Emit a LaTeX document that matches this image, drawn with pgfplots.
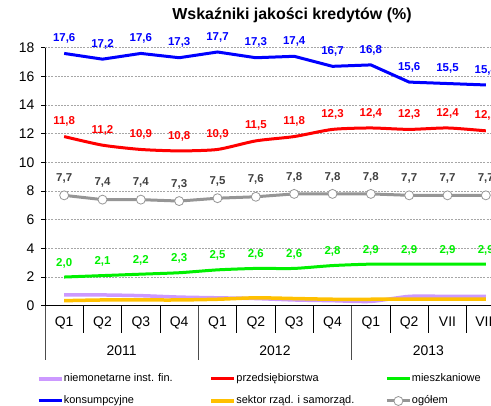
\documentclass[border=0pt]{standalone}
\usepackage{fontspec}
\setmainfont{Liberation Sans}
\usepackage{pgfplots}
\pgfplotsset{compat=1.18}
\usepackage{pgfplotstable}

\definecolor{cPurple}{RGB}{204,153,255}
\definecolor{cRed}{RGB}{255,0,0}
\definecolor{cGreen}{RGB}{0,240,0}
\definecolor{cBlue}{RGB}{0,0,255}
\definecolor{cYellow}{RGB}{255,192,0}
\definecolor{cGrey}{RGB}{150,150,150}
\definecolor{cLabel}{RGB}{64,64,64}

% quarterly credit quality ratios (%)
\pgfplotstableread{
x  nif   prz   mie  kon   sek   ogo
0  0.75  11.8  2.0  17.6  0.35  7.7
1  0.75  11.2  2.1  17.2  0.40  7.4
2  0.70  10.9  2.2  17.6  0.40  7.4
3  0.60  10.8  2.3  17.3  0.40  7.3
4  0.55  10.9  2.5  17.7  0.45  7.5
5  0.50  11.5  2.6  17.3  0.55  7.6
6  0.40  11.8  2.6  17.4  0.50  7.8
7  0.35  12.3  2.8  16.7  0.45  7.8
8  0.30  12.4  2.9  16.8  0.45  7.8
9  0.65  12.3  2.9  15.6  0.45  7.7
10 0.65  12.4  2.9  15.5  0.45  7.7
11 0.65  12.2  2.9  15.4  0.45  7.7
}\data

\pgfplotsset{
  vlabel/.style={
    nodes near coords={\pgfmathprintnumber[fixed,fixed zerofill,precision=1,use comma]{\pgfplotspointmeta}},
    every node near coord/.append style={font=\bfseries\fontsize{11.5}{13}\selectfont,
      anchor=center, yshift=#1, text=.}},
}

\begin{document}
\begin{tikzpicture}
\useasboundingbox (0,0) rectangle (491bp,406bp);
\clip (0,0) rectangle (491bp,406bp);
\node[font=\bfseries\fontsize{16}{18}\selectfont] at (292bp,391bp) {Wskaźniki jakości kredytów (\%)};
\begin{axis}[
  scale only axis, width=460bp, height=258bp,
  at={(45bp,100.3bp)}, anchor=south west,
  clip=false,
  xmin=-0.5, xmax=11.5, ymin=0, ymax=18,
  axis lines=left, axis line style={-, black, line width=0.9bp},
  ytick={0,2,...,18},
  xtick={0,...,11},
  xticklabels={Q1,Q2,Q3,Q4,Q1,Q2,Q3,Q4,Q1,Q2,VII,VIII},
  major x tick style={draw=none},
  minor xtick={0.5,1.5,...,10.5},
  minor tick length=27bp,
  major tick length=4bp,
  tick align=outside,
  minor x tick style={draw=black, line width=0.8bp},
  extra x ticks={-0.5,3.5,7.5,11.5},
  extra x tick labels={},
  extra x tick style={major tick length=54bp,
    major x tick style={draw=gray!60!black, line width=0.9bp}},
  ytick style={black, line width=0.8bp},
  /pgf/number format/assume math mode=true,
  tick label style={font=\fontsize{14}{16}\selectfont},
  xticklabel style={yshift=-4bp},
  yticklabel style={xshift=-3bp},
  ymajorgrids,
  major grid style={gray!70, dash pattern=on 2bp off 1.2bp, line width=0.5bp},
  legend columns=3,
  legend cell align=left,
  legend style={at={(-0.018,-0.262)}, anchor=north west, draw=none, fill=none,
    inner sep=0pt, row sep=11bp,
    font=\fontsize{11}{12}\selectfont,
    nodes={inner sep=0.5bp, text height=8bp, text depth=2bp}},
  legend image code/.code={\draw[mark repeat=2, mark phase=2, #1]
     plot coordinates {(0bp,0bp) (11.5bp,0bp) (23bp,0bp)};},
]
\addplot[cPurple, line width=3.5bp, smooth, tension=0.4] table[x=x, y=nif] {\data};
\addlegendentry{\makebox[145bp][l]{niemonetarne inst. fin.}}
\addplot[cRed, line width=3bp, smooth, tension=0.4, vlabel=15bp] table[x=x, y=prz] {\data};
\addlegendentry{\makebox[148.5bp][l]{przedsiębiorstwa}}
\addplot[cGreen, line width=3bp, smooth, tension=0.4, vlabel=14bp] table[x=x, y=mie] {\data};
\addlegendentry{\makebox[80bp][l]{mieszkaniowe}}
\addplot[cBlue, line width=3bp, vlabel=15bp] table[x=x, y=kon] {\data};
\addlegendentry{konsumpcyjne}
\addplot[cYellow, line width=3.5bp, smooth, tension=0.4] table[x=x, y=sek] {\data};
\addlegendentry{sektor rząd. i samorząd.}
\addplot[cGrey, line width=3bp, mark=*, mark size=4.5bp,
  mark options={fill=white, draw=cGrey, line width=0.8bp},
  vlabel=17bp, every node near coord/.append style={text=cLabel}] table[x=x, y=ogo] {\data};
\addlegendentry{ogółem}
\node[font=\fontsize{14}{16}\selectfont] at (axis cs:1.5,0) [yshift=-45bp] {2011};
\node[font=\fontsize{14}{16}\selectfont] at (axis cs:5.5,0) [yshift=-45bp] {2012};
\node[font=\fontsize{14}{16}\selectfont] at (axis cs:9.5,0) [yshift=-45bp] {2013};
\end{axis}
\end{tikzpicture}
\end{document}
